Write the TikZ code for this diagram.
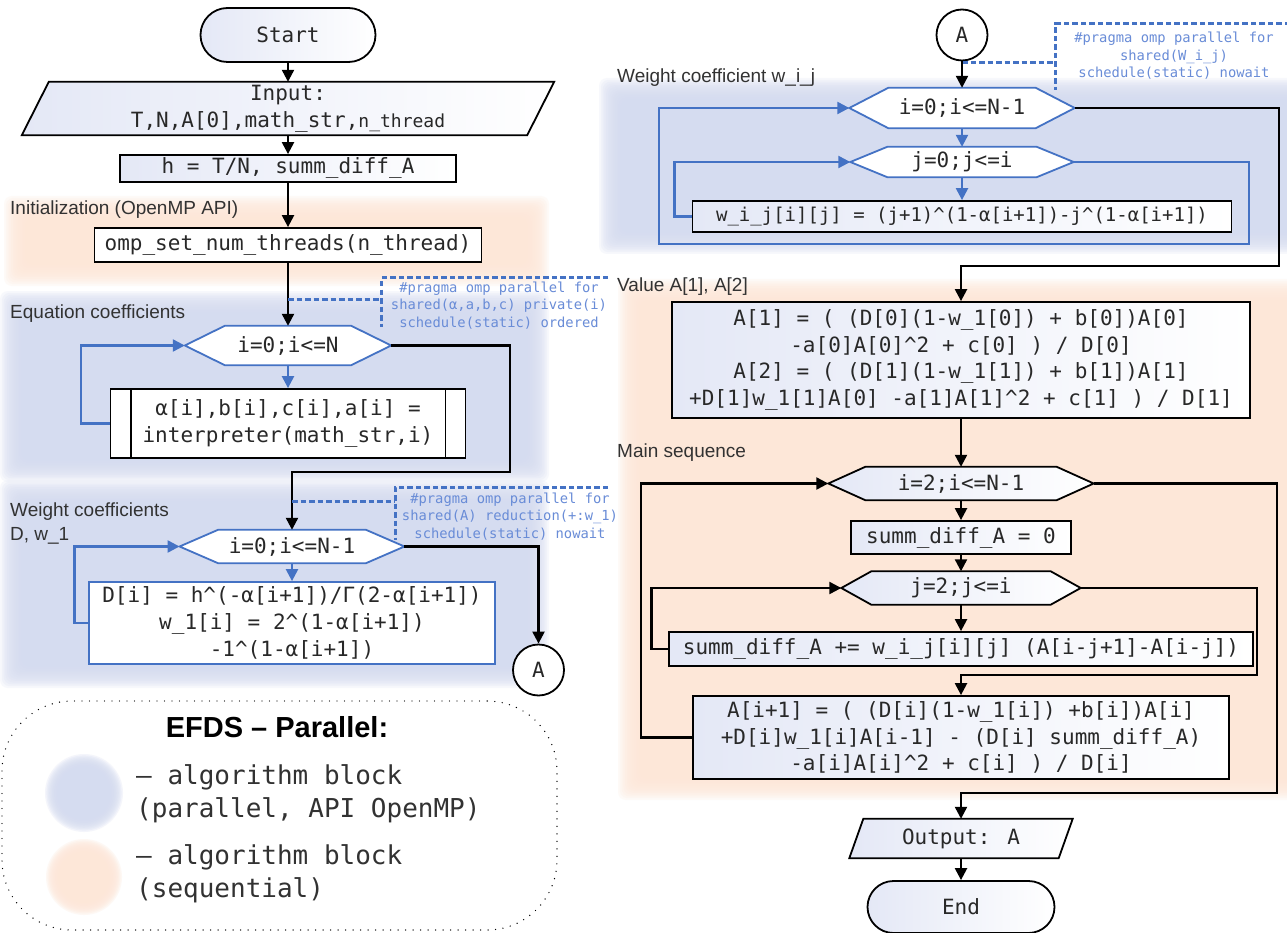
\documentclass[tikz,border=0pt]{standalone}
\usepackage{fontspec}
\setmainfont{Liberation Sans}
\newfontfamily\codefont{DejaVu Sans Mono}
\usetikzlibrary{arrows.meta,calc}
\pgfdeclarelayer{bands}
\pgfdeclarelayer{shapes}
\pgfsetlayers{bands,shapes,main}

\definecolor{flowblue}{RGB}{68,114,196}
\definecolor{pragmablue}{RGB}{105,140,215}
\definecolor{bandblue}{RGB}{213,220,240}
\definecolor{bandorange}{RGB}{253,231,216}
\definecolor{nodetint}{RGB}{228,232,246}
\definecolor{inkc}{RGB}{40,40,40}
\definecolor{labelc}{RGB}{50,50,50}

\newcommand{\cc}{\textasciicircum}

% soft-edged background band: top-left corner, bottom-right corner, colour
\newcommand{\softband}[3]{%
  \begin{pgfonlayer}{bands}
  \foreach \k in {0,...,13}{
    \fill[#3, fill opacity=0.19, rounded corners=8pt]
      ($(#1)+(\k*1.8,\k*1.8)$) rectangle ($(#2)-(\k*1.8,\k*1.8)$);}
  \end{pgfonlayer}}

% soft-edged disc: centre, radius, colour
\newcommand{\softdisc}[3]{%
  \foreach \k in {0,...,9}{
    \fill[#3, fill opacity=0.26] (#1) circle[radius=#2pt-\k*1.4pt];}}

% hexagonal loop header: style, name, position, size, point depth, text
\newcommand{\hexnode}[6]{%
  \node[codenode, #4] (#2) at (#3) {#6};
  \begin{pgfonlayer}{shapes}
  \path[#1] ([xshift=#5pt]#2.north west) -- ([xshift=-#5pt]#2.north east) -- (#2.east)
    -- ([xshift=-#5pt]#2.south east) -- ([xshift=#5pt]#2.south west) -- (#2.west) -- cycle;
  \end{pgfonlayer}}

% input/output parallelogram: style, name, position, size, slant, text
\newcommand{\paranode}[6]{%
  \node[codenode, #4] (#2) at (#3) {#6};
  \begin{pgfonlayer}{shapes}
  \path[#1] ([xshift=#5pt]#2.north west) -- (#2.north east)
    -- ([xshift=-#5pt]#2.south east) -- (#2.south west) -- cycle;
  \end{pgfonlayer}}

\tikzset{
  codenode/.style={font=\codefont\fontsize{21}{26.7}\selectfont, text=inkc, align=center, inner sep=0pt},
  rim/.style={line width=1.8pt},
  tinted/.style={rim, draw=black, left color=nodetint, right color=white},
  whitebox/.style={rim, draw=black, fill=white},
  bluebox/.style={rim, draw=flowblue, fill=white},
  arrowline/.style={draw=black, line width=2.3pt, -{Triangle[length=12pt,width=12pt]}},
  barrow/.style={arrowline, draw=flowblue},
  pragmaline/.style={draw=flowblue, line width=3pt, dash pattern=on 5.5pt off 3pt},
  pragmatext/.style={font=\codefont\fontsize{13.8}{17.6}\selectfont, text=pragmablue, align=center, inner sep=0pt},
  seclabel/.style={font=\fontsize{19}{23.5}\selectfont, text=labelc, anchor=west, align=left, inner sep=0pt},
  legendtext/.style={font=\codefont\fontsize{26}{33}\selectfont, text=labelc, anchor=west, align=left, inner sep=0pt},
}

\begin{document}
\begin{tikzpicture}[x=1pt,y=-1pt]
\useasboundingbox (0,0) rectangle (1287,933);
\begin{pgfonlayer}{bands}
  \fill[white] (0,0) rectangle (1287,933);
\end{pgfonlayer}

% ---------- background bands ----------
\softband{4,196}{549,286}{bandorange}
\softband{0,291}{549,482}{bandblue}
\softband{0,480}{549,688}{bandblue}
\softband{599,78}{1320,254}{bandblue}
\softband{618,279}{1320,800}{bandorange}

% ---------- section labels ----------
\node[seclabel] (lab1) at (10,210) {Initialization (OpenMP API)};
\node[seclabel] (lab2) at (10,314) {Equation coefficients};
\node[seclabel] (lab3) at (10,523.5) {Weight coefficients\\D, w\_1};
\node[seclabel] (lab4) at (617,78) {Weight coefficient w\_i\_j};
\node[seclabel] (lab5) at (617,287) {Value A[1], A[2]};
\node[seclabel] (lab6) at (617,453) {Main sequence};

% ---------- left column ----------
\node[codenode, tinted, rounded corners=27pt, minimum width=175pt, minimum height=54pt] (start) at (288,35) {Start};
\paranode{tinted}{input}{288,108.5}{minimum width=532pt, minimum height=53pt}{27}{Input:\\T,N,A[0],math\_str,{\fontsize{18}{26.7}\selectfont n\_thread}}
\node[codenode, tinted, minimum width=336pt, minimum height=27pt] (hbox) at (288,168.5) {h = T/N, summ\_diff\_A};
\node[codenode, whitebox, minimum width=387pt, minimum height=34pt] (omp) at (288,245) {omp\_set\_num\_threads(n\_thread)};

\hexnode{bluebox}{hex1}{288,345.5}{minimum width=206pt, minimum height=39pt}{40}{i=0;i<=N}
\node[codenode, whitebox, minimum width=355pt, minimum height=69pt] (box1) at (288,423.5) {α[i],b[i],c[i],a[i] =\\interpreter(math\_str,i)};
\draw[rim] ([xshift=21pt]box1.north west) -- ([xshift=21pt]box1.south west);
\draw[rim] ([xshift=-21pt]box1.north east) -- ([xshift=-21pt]box1.south east);

\hexnode{bluebox}{hex2}{292,546.5}{minimum width=224.5pt, minimum height=33pt}{38.5}{i=0;i<=N-1}
\node[codenode, bluebox, minimum width=406pt, minimum height=82pt] (box2) at (292,623) {D[i] = h\cc(-α[i+1])/Γ(2-α[i+1])\\w\_1[i] = 2\cc(1-α[i+1])\\-1\cc(1-α[i+1])};
\node[codenode, whitebox, circle, minimum size=51pt] (A1) at (538.5,670) {A};

\node[pragmatext] (pr1) at (499,305.5) {\#pragma omp parallel for\\shared(α,a,b,c) private(i)\\schedule(static) ordered};
\node[pragmatext] (pr2) at (510,516.5) {\#pragma omp parallel for\\shared(A) reduction(+:w\_1)\\schedule(static) nowait};

% ---------- right column ----------
\node[codenode, whitebox, circle, minimum size=51pt] (A2) at (962,35) {A};
\hexnode{bluebox}{hex3}{962,108}{minimum width=225pt, minimum height=40pt}{39}{i=0;i<=N-1}
\hexnode{bluebox}{hex4}{962,162}{minimum width=223pt, minimum height=30pt}{37}{j=0;j<=i}
\node[codenode, tinted, font=\codefont\fontsize{19}{24}\selectfont, minimum width=539pt, minimum height=31pt] (box3) at (962,216.5) {w\_i\_j[i][j] = (j+1)\cc(1-α[i+1])-j\cc(1-α[i+1])};
\node[pragmatext] (pr3) at (1174,56) {\#pragma omp parallel for\\shared(W\_i\_j)\\schedule(static) nowait};

\node[codenode, tinted, minimum width=578pt, minimum height=116pt] (box4) at (961,360) {A[1] = ( (D[0](1-w\_1[0]) + b[0])A[0]\\-a[0]A[0]\cc2 + c[0] ) / D[0]\\A[2] = ( (D[1](1-w\_1[1]) + b[1])A[1]\\+D[1]w\_1[1]A[0] -a[1]A[1]\cc2 + c[1] ) / D[1]};

\hexnode{tinted}{hex5}{961,483.5}{minimum width=265pt, minimum height=33pt}{37}{i=2;i<=N-1}
\node[codenode, tinted, minimum width=220pt, minimum height=33pt] (box5) at (961,537.5) {summ\_diff\_A = 0};
\hexnode{tinted}{hex6}{961,588}{minimum width=239pt, minimum height=33pt}{30}{j=2;j<=i}
\node[codenode, tinted, minimum width=584pt, minimum height=34pt] (box6) at (961,649) {summ\_diff\_A += w\_i\_j[i][j] (A[i-j+1]-A[i-j])};
\node[codenode, tinted, minimum width=536pt, minimum height=83pt] (box7) at (961,737.5) {A[i+1] = ( (D[i](1-w\_1[i]) +b[i])A[i]\\+D[i]w\_1[i]A[i-1] - (D[i] summ\_diff\_A)\\-a[i]A[i]\cc2 + c[i] ) / D[i]};
\paranode{tinted}{output}{961,838.5}{minimum width=223pt, minimum height=39pt}{14}{Output: A}
\node[codenode, tinted, rounded corners=26pt, minimum width=187pt, minimum height=52pt] (end) at (961,907) {End};

% ---------- connectors, left ----------
\draw[arrowline] (start.south) -- (input.north);
\draw[arrowline] (input.south) -- (hbox.north);
\draw[arrowline] (hbox.south) -- (omp.north);
\draw[arrowline] (omp.south) -- (hex1.north);
\draw[barrow] (hex1.south) -- (box1.north);
\draw[barrow] (box1.west) -- ++(-28.4,0) |- (hex1.west);
\draw[arrowline] (hex1.east) -- ++(118.5,0) -- ++(0,126.5) -| (hex2.north);
\draw[barrow] (hex2.south) -- (box2.north);
\draw[barrow] (box2.west) -- ++(-13.5,0) |- (hex2.west);
\draw[arrowline] (hex2.east) -| (A1.north);

% OpenMP directive brackets
\coordinate (b1) at (381.5,299);
\coordinate (b1top) at (381.5,278);
\coordinate (b1end) at (608,278);
\coordinate (b1bot) at (381.5,327);
\draw[pragmaline] (omp.south |- b1) -- (b1);
\draw[pragmaline] (b1end) -- (b1top) -- (b1bot);

\coordinate (b2) at (395,501.7);
\coordinate (b2top) at (395,487);
\coordinate (b2end) at (608,487);
\coordinate (b2bot) at (395,540);
\draw[pragmaline] (hex2.north |- b2) -- (b2);
\draw[pragmaline] (b2end) -- (b2top) -- (b2bot);

\coordinate (b3) at (1055.5,63);
\coordinate (b3top) at (1055.5,24);
\coordinate (b3end) at (1290,24);
\coordinate (b3bot) at (1055.5,90);
\draw[pragmaline] (A2.south |- b3) -- (b3);
\draw[pragmaline] (b3end) -- (b3top) -- (b3bot);

% ---------- connectors, right ----------
\draw[arrowline] (A2.south) -- (hex3.north);
\draw[barrow] (hex3.south) -- (hex4.north);
\draw[barrow] (hex4.south) -- (box3.north);
\draw[barrow] (box3.west) -- ++(-17,0) |- (hex4.west);
\draw[barrow] (hex4.east) -- ++(175,0) -- ++(0,82) -- ++(-589.5,0) |- (hex3.west);
\draw[arrowline] (hex3.east) -- ++(204.5,0) -- ++(0,158) -| (box4.north);
\draw[arrowline] (box4.south) -- (hex5.north);
\draw[arrowline] (hex5.south) -- (box5.north);
\draw[arrowline] (box5.south) -- (hex6.north);
\draw[arrowline] (hex6.south) -- (box6.north);
\draw[arrowline] (box6.west) -- ++(-16.5,0) |- (hex6.west);
\draw[arrowline] (hex6.east) -- ++(176,0) -- ++(0,87) -| (box7.north);
\draw[arrowline] (box7.west) -- ++(-51.4,0) |- (hex5.west);
\draw[arrowline] (hex5.east) -- ++(183.5,0) -- ++(0,309.5) -| (output.north);
\draw[arrowline] (output.south) -- (end.north);

% ---------- legend ----------
\node[draw=black, line width=1.4pt, dash pattern=on 0pt off 7.5pt, line cap=round, rounded corners=70pt,
      minimum width=555pt, minimum height=229pt, inner sep=0pt] (legend) at (279.5,815.5) {};
\node[font=\bfseries\fontsize{29}{34}\selectfont, text=black, inner sep=0pt] (ltitle) at (277,727) {EFDS – Parallel:};
\softdisc{84,793}{39}{bandblue}
\softdisc{84,877}{38}{bandorange}
\node[legendtext] (lg1) at (136,793.5) {– algorithm block\\(parallel, API OpenMP)};
\node[legendtext] (lg2) at (136,874) {– algorithm block\\(sequential)};
\end{tikzpicture}
\end{document}
